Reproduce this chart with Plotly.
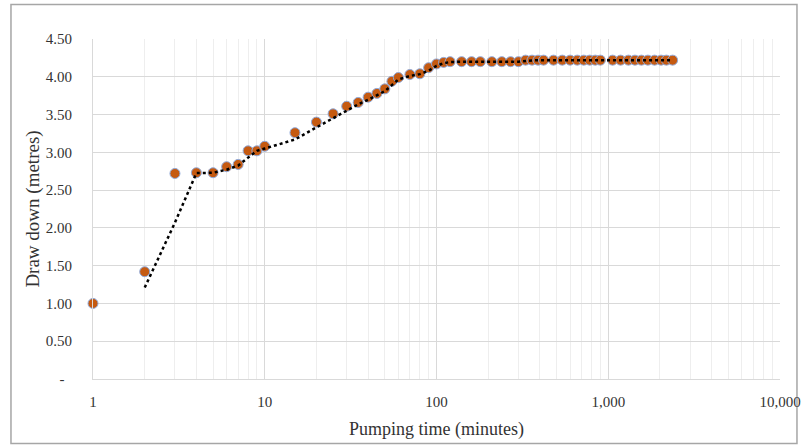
import plotly.graph_objects as go

# Pumping test data (time in minutes, drawdown in metres)
time_min = [1, 2, 3, 4, 5, 6, 7, 8, 9, 10, 15, 20, 25, 30, 35, 40, 45, 50, 55, 60,
            70, 80, 90, 100, 110, 120, 140, 160, 180, 210, 240, 270, 300, 330, 360,
            390, 420, 480, 540, 600, 660, 720, 780, 840, 900, 1060, 1180, 1310, 1430,
            1560, 1700, 1860, 2030, 2180, 2370]
drawdown_m = [1.00, 1.42, 2.72, 2.73, 2.73, 2.81, 2.84, 3.02, 3.02, 3.08, 3.26, 3.40,
              3.51, 3.61, 3.66, 3.73, 3.78, 3.84, 3.94, 3.99, 4.03, 4.04, 4.12, 4.17,
              4.19, 4.20, 4.20, 4.20, 4.20, 4.20, 4.20, 4.20, 4.20, 4.22, 4.22, 4.22,
              4.22, 4.22, 4.22, 4.22, 4.22, 4.22, 4.22, 4.22, 4.22, 4.22, 4.22, 4.22,
              4.22, 4.22, 4.22, 4.22, 4.22, 4.22, 4.22]

y_ticks = [0, 0.5, 1.0, 1.5, 2.0, 2.5, 3.0, 3.5, 4.0, 4.5]
y_ticktext = ["-  ", "0.50", "1.00", "1.50", "2.00", "2.50", "3.00", "3.50", "4.00", "4.50"]
x_ticks = [1, 10, 100, 1000, 10000]
x_ticktext = ["1", "10", "100", "1,000", "10,000"]

# 2-period moving average trendline (as in the spreadsheet chart)
ma_x = time_min[1:]
ma_y = [(drawdown_m[i - 1] + drawdown_m[i]) / 2 for i in range(1, len(drawdown_m))]

font_family = "Liberation Serif"
text_color = "#333333"

fig = go.Figure()
fig.add_trace(go.Scatter(
    x=time_min, y=drawdown_m, mode="markers",
    marker=dict(size=10, color="#C55A11", line=dict(color="#8FAADC", width=1)),
    showlegend=False, cliponaxis=False,
))
fig.add_trace(go.Scatter(
    x=ma_x, y=ma_y, mode="lines",
    line=dict(color="#000000", width=2.5, dash="dot"),
    showlegend=False,
))

fig.update_layout(
    width=803, height=448,
    margin=dict(l=93, r=23, t=39, b=69),
    paper_bgcolor="white", plot_bgcolor="white",
    font=dict(family=font_family, size=15, color=text_color),
    xaxis=dict(
        type="log", range=[0, 4], automargin=False,
        tickvals=x_ticks, ticktext=x_ticktext,
        showgrid=True, gridcolor="#D9D9D9", gridwidth=1,
        minor=dict(dtick="D1", showgrid=True, gridcolor="#EEEEEE", gridwidth=1, ticks=""),
        showline=True, linecolor="#D9D9D9", linewidth=1,
        zeroline=False, ticks="", ticklabelstandoff=9,
        tickfont=dict(size=15, color=text_color),
        title=dict(text="Pumping time (minutes)", standoff=13,
                   font=dict(size=18, color=text_color)),
    ),
    yaxis=dict(
        range=[0, 4.5], automargin=False,
        tickvals=y_ticks, ticktext=y_ticktext,
        showgrid=True, gridcolor="#D9D9D9", gridwidth=1,
        showline=True, linecolor="#D9D9D9", linewidth=1,
        zeroline=False, ticks="", ticklabelstandoff=17,
        tickfont=dict(size=15, color=text_color),
        title=dict(text="Draw down (metres)", standoff=1,
                   font=dict(size=19, color=text_color)),
    ),
    shapes=[dict(type="rect", xref="paper", yref="paper",
                 x0=-0.1194, x1=1.0247, y0=-0.1895, y1=1.1014,
                 line=dict(color="#A6A6A6", width=1.5), fillcolor="rgba(0,0,0,0)",
                 layer="below")],
)

fig.write_html(
    "out.html",
    config={"displayModeBar": False},
    post_script="document.body.style.margin='0';document.body.style.overflow='hidden';",
)
